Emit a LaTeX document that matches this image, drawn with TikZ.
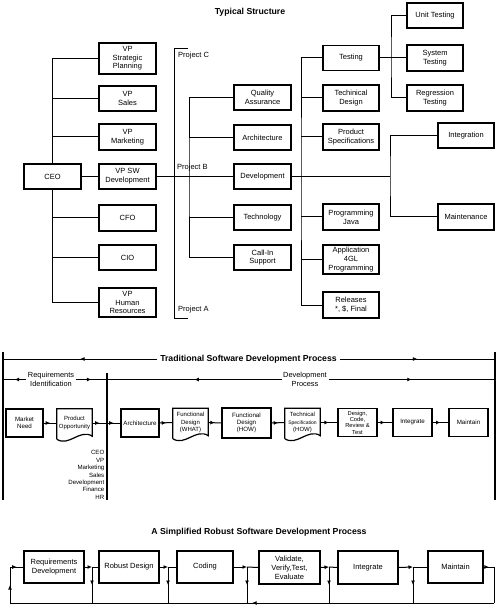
\documentclass[tikz,border=0pt]{standalone}
\usepackage{fontspec}
\setmainfont{Liberation Sans}
\usetikzlibrary{arrows.meta,decorations.markings}

% outline of a document node (wavy bottom)
\newcommand\docoutline[1]{%
  \draw[boxline] ([yshift=-2pt]#1.south west) -- (#1.north west) -- (#1.north east)
    -- ([yshift=1pt]#1.south east) .. controls +(-12,-8) and +(12,8) .. ([yshift=-2pt]#1.south west);}

\begin{document}
\begin{tikzpicture}[x=1pt,y=-1pt,
	boxline/.style={line width=1.2pt},
	orgbox/.style={draw,boxline,align=center,inner sep=1pt,minimum width=57pt,
		minimum height=25pt,font=\fontsize{7.5}{8.7}\selectfont},
	orgline/.style={line width=1pt},
	titletext/.style={font=\bfseries\fontsize{8.7}{10}\selectfont,inner sep=3pt},
	labeltext/.style={font=\fontsize{7.4}{8.6}\selectfont,align=center,inner sep=1.5pt},
	procbox/.style={draw,boxline,align=center,inner sep=0.5pt,minimum height=28pt,
		font=\fontsize{6.2}{7}\selectfont},
	docbox/.style={align=center,inner sep=0.5pt,minimum height=28pt,
		font=\fontsize{6}{7.4}\selectfont},
	procline/.style={line width=1pt},
	tradline/.style={line width=1.4pt},
	midarrow/.style={postaction={decorate},decoration={markings,
		mark=at position 0.5 with {\arrow{Latex[length=4.5pt,width=4pt]}}}},
	tiparrow/.style={-{Latex[length=4.5pt,width=4pt]}},
	robbox/.style={draw,boxline,align=center,inner sep=1pt,minimum height=32pt,
		font=\fontsize{7.5}{9}\selectfont}]
	\useasboundingbox (0,0) rectangle (500,609);

	% typical structure
	\node[titletext] (typtitle) at (250,12) {Typical Structure};
	\node[orgbox] (ceo) at (52.5,176.5) {CEO};
	\node[orgbox,minimum height=31pt] (strat) at (127.5,58.5) {VP\\Strategic\\Planning};
	\node[orgbox] (sales) at (127.5,98.5) {VP\\Sales};
	\node[orgbox,minimum height=26pt] (mkt) at (127.5,137) {VP\\Marketing};
	\node[orgbox] (vpsw) at (127.5,176.5) {VP SW\\Development};
	\node[orgbox,minimum height=26pt] (cfo) at (127.5,218) {CFO};
	\node[orgbox] (cio) at (127.5,257.5) {CIO};
	\node[orgbox,minimum height=29pt] (hr) at (127.5,302.5) {VP\\Human\\Resources};
	\draw[orgline] (strat.west) -| (ceo.north);
	\draw[orgline] (hr.west) -| (ceo.south);
	\foreach \n in {sales,mkt,cfo,cio}
		\draw[orgline] (\n.west) -- (\n.west -| ceo);
	\draw[orgline] (ceo.east) -- (vpsw.west);

	% projects
	\coordinate (projtop) at (174,49);
	\coordinate (projbot) at (174,318);
	\draw[orgline] ([xshift=14pt]projtop) -- (projtop) -- (projbot) -- ([xshift=14pt]projbot);
	\node[font=\fontsize{7.5}{9}\selectfont,anchor=west,inner sep=1pt] (projc) at (177,56) {Project C};
	\node[font=\fontsize{7.5}{9}\selectfont,anchor=west,inner sep=1pt] (projb) at (176,168) {Project B};
	\node[font=\fontsize{7.5}{9}\selectfont,anchor=west,inner sep=1pt] (proja) at (177,310) {Project A};

	\node[orgbox] (qa) at (262.5,97.5) {Quality\\Assurance};
	\node[orgbox] (arch) at (262.5,137.5) {Architecture};
	\node[orgbox] (dev) at (262.5,176.5) {Development};
	\node[orgbox] (techn) at (262.5,217.5) {Technology};
	\node[orgbox] (callin) at (262.5,257.5) {Call-In\\Support};
	\draw[orgline] (vpsw.east) -- (dev.west);
	\coordinate (qajoin) at (189,176.5);
	\draw[orgline] (qa.west) -| (qajoin) |- (callin.west);
	\foreach \n in {arch,techn}
		\draw[orgline] (\n.west) -- (\n.west -| qajoin);

	\node[orgbox,minimum width=56pt] (test) at (351,58) {Testing};
	\node[orgbox,minimum width=56pt,minimum height=26pt] (techd) at (351,98) {Techinical\\Design};
	\node[orgbox,minimum width=56pt,minimum height=26pt] (prods) at (351,137) {Product\\Specifications};
	\node[orgbox,minimum width=56pt,minimum height=26pt] (java) at (351,217) {Programming\\Java};
	\node[orgbox,minimum width=56pt,minimum height=29pt] (app) at (351,259.5) {Application\\4GL\\Programming};
	\node[orgbox,minimum width=56pt,minimum height=26pt] (rel) at (351,305) {Releases\\*, \$, Final};
	\coordinate (devjoin) at (301,176.5);
	\draw[orgline] (test.west) -| (devjoin) |- (rel.west);
	\foreach \n in {techd,prods,java,app}
		\draw[orgline] (\n.west) -- (\n.west -| devjoin);

	\node[orgbox,minimum width=56pt] (unit) at (435,15.5) {Unit Testing};
	\node[orgbox,minimum width=56pt,minimum height=26pt] (systest) at (435,58) {System\\Testing};
	\node[orgbox,minimum width=56pt,minimum height=26pt] (regr) at (435,98) {Regression\\Testing};
	\coordinate (testjoin) at (391,58);
	\draw[orgline] (test.east) -- (systest.west);
	\draw[orgline] (unit.west) -| (testjoin) |- (regr.west);

	\node[orgbox,minimum width=56pt] (integ) at (466,135.5) {Integration};
	\node[orgbox,minimum width=56pt,minimum height=26pt] (maint) at (466,217) {Maintenance};
	\coordinate (postjoin) at (390,176.5);
	\draw[orgline] (dev.east) -- (postjoin);
	\draw[orgline] (integ.west) -| (postjoin) |- (maint.west);

	% traditional process
	\coordinate (ltop) at (3,352);
	\coordinate (lbot) at (3,500);
	\coordinate (rtop) at (495,352);
	\coordinate (rbot) at (495,500);
	\coordinate (divtop) at (107,373);
	\coordinate (divbot) at (107,500);
	\draw[tradline] (ltop) -- (lbot);
	\draw[tradline] (rtop) -- (rbot);
	\draw[tradline] (divtop) -- (divbot);
	\node[titletext] (tradtitle) at (248.5,359) {Traditional Software Development Process};
	\draw[procline,midarrow] (tradtitle.west) -- (tradtitle.west -| ltop);
	\draw[procline,midarrow] (tradtitle.east) -- (tradtitle.east -| rtop);
	\node[labeltext] (reqlabel) at (51,379.5) {Requirements\\Identification};
	\node[labeltext] (devlabel) at (305,379.5) {Development\\Process};
	\draw[procline,midarrow] (reqlabel.west) -- (reqlabel.west -| ltop);
	\draw[procline,midarrow] (reqlabel.east) -- (reqlabel.east -| divtop);
	\draw[procline,midarrow] (devlabel.west) -- (devlabel.west -| divtop);
	\draw[procline,midarrow] (devlabel.east) -- (devlabel.east -| rtop);

	\node[procbox,minimum width=37pt] (need) at (24.5,423) {Market\\Need};
	\node[docbox,minimum width=35pt] (popp) at (74.5,423) {Product\\Opportunity};
	\docoutline{popp}
	\node[procbox,minimum width=38pt] (parch) at (140,423) {Architecture};
	\node[docbox,minimum width=35pt] (fwhat) at (190.5,422.5) {Functional\\Design\\(WHAT)};
	\docoutline{fwhat}
	\node[procbox,minimum width=49pt,minimum height=30pt] (fhow) at (246.5,423) {Functional\\Design\\(HOW)};
	\node[docbox,minimum width=35pt] (tspec) at (302.5,422.5) {Technical\\{\fontsize{5}{7}\selectfont Specification}\\(HOW)};
	\docoutline{tspec}
	\node[procbox,minimum width=39pt,font=\fontsize{5.8}{6.3}\selectfont] (dcrt) at (357.5,422.5) {Design,\\Code,\\Review \&\\Test};
	\node[procbox,minimum width=39pt] (pinteg) at (412.5,422.5) {Integrate};
	\node[procbox,minimum width=39pt] (pmaint) at (468.5,422.5) {Maintain};
	\draw[procline,midarrow] (need.east) -- (popp.west);
	\draw[procline,midarrow] (popp.east) -- (popp.east -| divtop);
	\draw[procline,midarrow] (popp.east -| divtop) -- (parch.west);
	\draw[procline,midarrow] (parch.east) -- (fwhat.west);
	\draw[procline,midarrow] (fwhat.east) -- (fhow.west);
	\draw[procline,midarrow] (fhow.east) -- (tspec.west);
	\draw[procline,midarrow] (tspec.east) -- (dcrt.west);
	\draw[procline,midarrow] (dcrt.east) -- (pinteg.west);
	\draw[procline,midarrow] (pinteg.east) -- (pmaint.west);
	\node[font=\fontsize{6.1}{7.4}\selectfont,align=right,anchor=east,inner sep=0pt] (stake) at (104.5,475)
		{CEO\\VP\\Marketing\\Sales\\Development\\Finance\\HR};

	% simplified robust process
	\node[titletext] (robtitle) at (259,532) {A Simplified Robust Software Development Process};
	\node[robbox,minimum width=60pt] (reqdev) at (54,567) {Requirements\\Development};
	\node[robbox,minimum width=60pt] (robdes) at (129,567) {Robust Design};
	\node[robbox,minimum width=56pt] (coding) at (205,567) {Coding};
	\node[robbox,minimum width=61pt,minimum height=33pt] (valid) at (289.5,567.5) {Validate,\\Verify,Test,\\Evaluate};
	\node[robbox,minimum width=60pt,minimum height=33pt] (rinteg) at (368,567.5) {Integrate};
	\node[robbox,minimum width=55pt] (rmaint) at (455.5,567) {Maintain};
	\coordinate (fbl) at (10,603);
	\coordinate (fbr) at (494,603);
	\coordinate (fbtl) at (10,567);
	\coordinate (fbtr) at (494,567);
	\coordinate (drop1) at (92,567);
	\coordinate (drop2) at (168,567);
	\coordinate (drop3) at (247,567);
	\coordinate (drop4) at (329,567);
	\coordinate (drop5) at (413,567);
	\draw[procline,tiparrow] (reqdev.east) -- (drop1);
	\draw[procline] (drop1) -- (robdes.west);
	\draw[procline,tiparrow] (robdes.east) -- (drop2);
	\draw[procline] (drop2) -- (coding.west);
	\draw[procline,tiparrow] (coding.east) -- (drop3);
	\draw[procline] (drop3) -- (valid.west);
	\draw[procline,tiparrow] (valid.east) -- (drop4);
	\draw[procline] (drop4) -- (rinteg.west);
	\draw[procline,tiparrow] (rinteg.east) -- (drop5);
	\draw[procline] (drop5) -- (rmaint.west);
	\foreach \d in {drop1,drop2,drop3,drop4,drop5}
		\draw[procline,midarrow] (\d) -- (\d |- fbl);
	\draw[procline,midarrow] (rmaint.east) -- (fbtr);
	\draw[procline] (fbtr) -- (fbr);
	\draw[procline,midarrow] (fbr) -- (fbl);
	\draw[procline,midarrow] (fbl) -- (fbtl);
	\draw[procline,midarrow] (fbtl) -- (reqdev.west);
\end{tikzpicture}
\end{document}
